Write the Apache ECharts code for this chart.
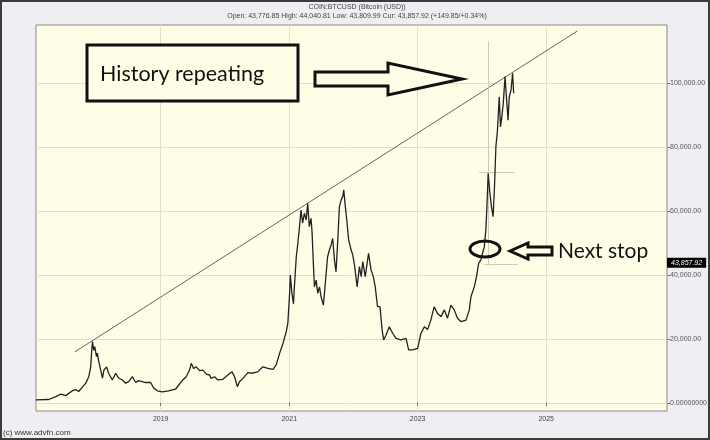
<!DOCTYPE html>
<html>
<head>
<meta charset="utf-8">
<script src="https://cdn.jsdelivr.net/npm/echarts@6/dist/echarts.min.js"></script>
<style>
  html, body { margin: 0; padding: 0; background: #efeef2; }
  #chart { width: 710px; height: 440px; }
</style>
</head>
<body>
<div id="chart"></div>
<script>
// BTC/USD closes (approximate)
var dates = [
  '2017-01-21','2017-04-04','2017-05-15','2017-06-12','2017-07-10','2017-08-19','2017-09-05','2017-09-22','2017-10-15','2017-11-01','2017-11-18','2017-11-29','2017-12-05','2017-12-09','2017-12-16','2017-12-22',
  '2018-01-01','2018-01-06','2018-01-14','2018-01-25','2018-02-04','2018-02-12','2018-02-27','2018-03-11','2018-04-01','2018-04-20','2018-05-07','2018-05-28','2018-06-16','2018-07-03','2018-07-24','2018-08-12','2018-08-29','2018-10-08','2018-11-05','2018-11-22','2018-12-13',
  '2019-01-10','2019-02-15','2019-03-26','2019-05-07','2019-05-26','2019-06-14','2019-06-24','2019-07-07','2019-07-22','2019-08-10','2019-08-29','2019-09-17','2019-10-06','2019-10-15','2019-11-03','2019-11-22','2019-12-20',
  '2020-01-18','2020-02-10','2020-02-25','2020-03-12','2020-03-25','2020-04-13','2020-05-11','2020-06-08','2020-07-07','2020-08-04','2020-09-01','2020-09-30','2020-10-19','2020-11-07','2020-11-26','2020-12-15','2020-12-24',
  '2021-01-03','2021-01-07','2021-01-16','2021-01-25','2021-01-31','2021-02-10','2021-02-19','2021-02-28','2021-03-09','2021-03-18','2021-03-28','2021-04-07','2021-04-16','2021-04-25','2021-05-05','2021-05-11','2021-05-18','2021-05-24','2021-06-03','2021-06-12','2021-06-22','2021-07-01','2021-07-14','2021-07-25','2021-08-07','2021-08-17','2021-08-27','2021-09-05','2021-09-15','2021-09-24','2021-10-04','2021-10-13','2021-10-23','2021-11-01','2021-11-07','2021-11-16','2021-11-24','2021-12-05','2021-12-19','2021-12-28',
  '2022-01-07','2022-01-22','2022-02-04','2022-02-14','2022-02-23','2022-03-09','2022-03-28','2022-04-11','2022-04-24','2022-05-05','2022-05-18','2022-06-01','2022-06-13','2022-06-22','2022-07-05','2022-07-24','2022-08-12','2022-08-31','2022-09-28','2022-10-27','2022-11-11','2022-12-03',
  '2023-01-01','2023-01-20','2023-02-08','2023-02-27','2023-03-17','2023-04-05','2023-04-24','2023-05-14','2023-06-02','2023-06-20','2023-07-09','2023-07-28','2023-08-16','2023-09-04','2023-10-03','2023-10-22','2023-10-31','2023-11-19','2023-12-02','2023-12-14','2023-12-27',
  '2024-01-05','2024-01-15','2024-01-24','2024-01-30','2024-02-06','2024-02-16','2024-02-25','2024-03-05','2024-03-13','2024-03-21','2024-03-30','2024-04-09','2024-04-16','2024-04-24','2024-05-02','2024-05-12','2024-05-21','2024-05-29','2024-06-05','2024-06-15','2024-06-24','2024-06-30'
];
var prices = [
  950,1100,2000,2800,2300,3900,4200,3600,5100,6200,8200,11300,16500,19200,16500,17600,
  14500,15600,12900,10300,7800,10300,11300,9300,7200,9300,7800,7200,6200,6700,8200,6400,7000,6400,6400,4700,3800,
  3500,3800,4300,7200,8200,10300,12400,10800,11300,10100,10300,9000,8750,7700,8200,7200,7400,
  8750,9800,8200,5100,6700,7700,9500,9300,9800,11300,10800,10500,11900,15500,18600,22300,24900,
  34300,40000,34400,31000,37000,45700,50000,55000,60300,56200,59300,57200,62400,55100,57700,53000,43700,36300,38400,34300,36300,33200,30600,37400,45700,47800,49400,51400,44700,41000,50900,61300,63400,64500,66600,61300,57200,50900,47800,46300,
  43100,36300,42600,39500,44200,39500,46800,41600,39500,36300,30100,30100,22800,19700,21200,23800,21800,20200,19700,20200,16600,16600,
  17100,21800,23800,23000,25900,30100,28000,27000,29100,26500,30600,29100,26500,25400,25900,29100,33200,36300,39500,43700,44700,
  46800,48800,54100,61300,71800,65500,61300,58200,67600,80100,85300,95700,86300,89500,93700,102000,94700,88400,95700,97800,103000,96800
];

// hand-drawn trend line, two ends (date, price)
var trendDates = ['2017-08-30', '2025-06-27'];
var trendValues = [15940, 116250];

// stray lines from the pasted chart piece
var ghostV = { date: '2024-02-04', from: 43000, to: 113000 };
var ghostH = [
  { from: '2023-12-17', to: '2024-07-03', value: 72200 },
  { from: '2024-01-15', to: '2024-07-25', value: 43400 }
];

var xTickYears = ['2019-01-01', '2021-01-01', '2023-01-01', '2025-01-01'];
var yTicks = [0, 20000, 40000, 60000, 80000, 100000];
var lastPrice = 43857.92;

var titleLine1 = 'COIN:BTCUSD (Bitcoin (USD))';
var titleLine2 = 'Open: 43,776.85 High: 44,040.81 Low: 43,809.99 Cur: 43,857.92 (+149.85/+0.34%)';
var credit = '(c) www.advfn.com';

var plotBg = '#fffde6';
var gridColor = '#e4dfc6';

function ts(d) { return Date.parse(d); }

function fmtNum(v) {
  if (v === 0) return '0.00000000';
  var s = v.toFixed(2);
  var parts = s.split('.');
  parts[0] = parts[0].replace(/\B(?=(\d{3})+(?!\d))/g, ',');
  return parts.join('.');
}

var seriesData = dates.map(function (d, i) { return [ts(d), prices[i]]; });
var xTicks = xTickYears.map(ts);

function seg(x1, y1, x2, y2, color) {
  return [
    { coord: [x1, y1], lineStyle: { color: color, width: 1, type: 'solid' }, label: { show: false } },
    { coord: [x2, y2] }
  ];
}

var chart = echarts.init(document.getElementById('chart'), null, { renderer: 'canvas' });
chart.setOption({
  animation: false,
  backgroundColor: '#efeef2',
  textStyle: { fontFamily: 'Liberation Sans, Arial, sans-serif' },
  grid: {
    left: 36, right: 42, top: 25, bottom: 29,
    show: true, backgroundColor: plotBg, borderColor: '#8a8a8a', borderWidth: 1
  },
  xAxis: {
    type: 'value',
    min: ts('2017-01-22'),
    max: ts('2026-11-19'),
    axisLine: { show: false },
    axisTick: { show: true, length: 3, lineStyle: { color: '#777' }, customValues: xTicks },
    axisLabel: {
      customValues: xTicks,
      fontSize: 7, color: '#444', margin: 5,
      formatter: function (v) { return String(new Date(v).getUTCFullYear()); }
    },
    splitLine: { show: true, lineStyle: { color: gridColor, width: 1 } }
  },
  yAxis: {
    type: 'value',
    position: 'right',
    min: -2500,
    max: 118125,
    axisLine: { show: false },
    axisTick: { show: true, length: 3, inside: false, lineStyle: { color: '#777' }, customValues: yTicks },
    axisLabel: { customValues: yTicks, fontSize: 7, color: '#555', margin: 3, formatter: fmtNum },
    splitLine: { show: true, lineStyle: { color: gridColor, width: 1 } }
  },
  series: [
    {
      name: 'BTCUSD',
      type: 'line',
      data: seriesData,
      showSymbol: false,
      symbol: 'none',
      z: 5,
      lineStyle: { color: '#222', width: 1.3 },
      markLine: {
        silent: true,
        symbol: 'none',
        animation: false,
        data: [
          seg(ts(trendDates[0]), trendValues[0], ts(trendDates[1]), trendValues[1], '#666'),
          seg(ts(ghostV.date), ghostV.from, ts(ghostV.date), ghostV.to, '#cfcab8'),
          seg(ts(ghostH[0].from), ghostH[0].value, ts(ghostH[0].to), ghostH[0].value, '#cfcab8'),
          seg(ts(ghostH[1].from), ghostH[1].value, ts(ghostH[1].to), ghostH[1].value, '#cfcab8'),
          {
            yAxis: lastPrice,
            lineStyle: { color: 'rgba(0,0,0,0)', width: 0 },
            label: {
              show: true, position: 'end', distance: 0,
              formatter: fmtNum(lastPrice),
              backgroundColor: '#000', color: '#fff', fontSize: 7, fontStyle: 'italic',
              padding: [2, 4, 1, 4]
            }
          }
        ]
      }
    }
  ],
  graphic: [
    { type: 'rect', z: 100, shape: { x: 1, y: 1, width: 708, height: 438 }, style: { fill: 'none', stroke: '#3b3b3b', lineWidth: 2 } },
    { type: 'text', z: 100, x: 357, y: 7, style: { text: titleLine1, fontSize: 7, fill: '#444', align: 'center', verticalAlign: 'middle', fontFamily: 'Liberation Sans' } },
    { type: 'text', z: 100, x: 357, y: 16, style: { text: titleLine2, fontSize: 7, fill: '#444', align: 'center', verticalAlign: 'middle', fontFamily: 'Liberation Sans' } },
    { type: 'text', z: 100, x: 3, y: 433, style: { text: credit, fontSize: 8, fill: '#333', verticalAlign: 'middle', fontFamily: 'Liberation Sans' } },
    // "History repeating" box and arrow
    { type: 'rect', z: 100, shape: { x: 87, y: 45, width: 211, height: 56 }, style: { fill: plotBg, stroke: '#111', lineWidth: 3 } },
    { type: 'text', z: 101, x: 100, y: 74, style: { text: 'History repeating', fontSize: 21.5, fill: '#111', verticalAlign: 'middle', fontFamily: 'Lato' } },
    { type: 'polygon', z: 100, shape: { points: [[315, 72], [388, 72], [388, 63], [462, 79], [388, 95], [388, 86], [315, 86]] }, style: { fill: plotBg, stroke: '#111', lineWidth: 3, lineJoin: 'miter' } },
    // "Next stop" ring, arrow and text
    { type: 'ellipse', z: 100, shape: { cx: 485, cy: 249, rx: 15, ry: 8 }, style: { fill: 'none', stroke: '#111', lineWidth: 3 } },
    { type: 'polygon', z: 100, shape: { points: [[510, 251], [528, 243], [528, 247], [552, 247], [552, 255], [528, 255], [528, 259]] }, style: { fill: plotBg, stroke: '#111', lineWidth: 3, lineJoin: 'miter' } },
    { type: 'text', z: 100, x: 558, y: 251, style: { text: 'Next stop', fontSize: 21, fill: '#111', verticalAlign: 'middle', fontFamily: 'Lato' } }
  ]
});
window.addEventListener('resize', function () {
  chart.resize();
});
</script>
</body>
</html>
